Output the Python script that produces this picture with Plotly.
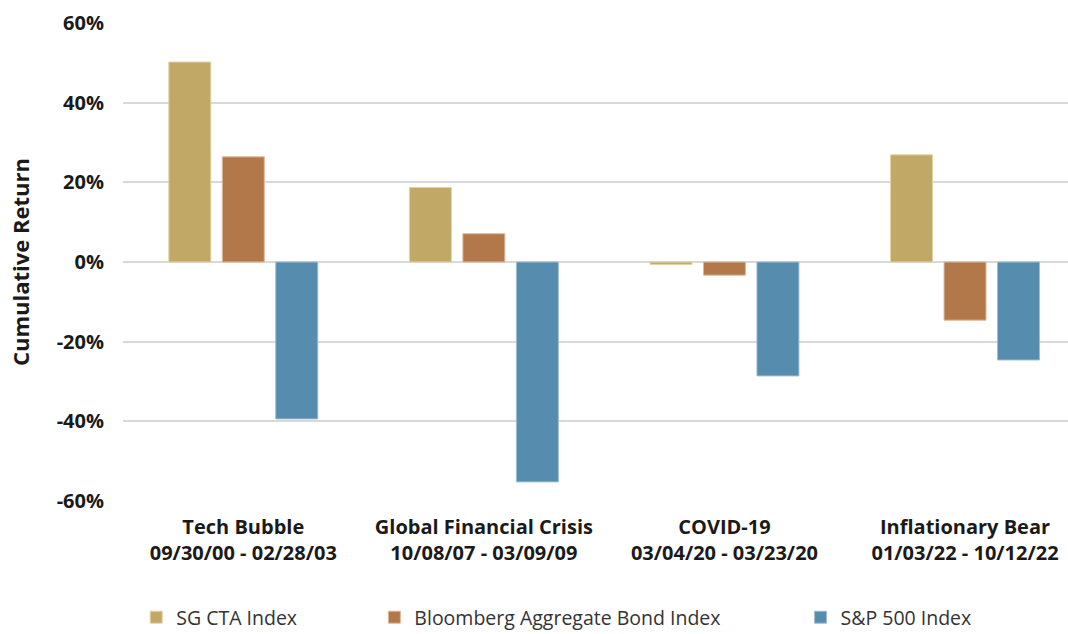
import plotly.graph_objects as go

periods = [
    "Tech Bubble<br>09/30/00 - 02/28/03",
    "Global Financial Crisis<br>10/08/07 - 03/09/09",
    "COVID-19<br>03/04/20 - 03/23/20",
    "Inflationary Bear<br>01/03/22 - 10/12/22",
]
sg_cta = [0.502, 0.187, -0.006, 0.269]
bbg_agg = [0.264, 0.071, -0.033, -0.146]
spx = [-0.394, -0.552, -0.286, -0.246]

y_ticks = [-0.6, -0.4, -0.2, 0, 0.2, 0.4, 0.6]
y_tick_text = ["-60%", "-40%", "-20%", "0%", "20%", "40%", "60%"]

series = [
    ("SG CTA Index", sg_cta, "#C1A866", "#E3D3A6", "legend"),
    ("Bloomberg Aggregate Bond Index", bbg_agg, "#B2784A", "#DDB99C", "legend2"),
    ("S&P 500 Index", spx, "#568CAD", "#9DBDD2", "legend3"),
]

fig = go.Figure()
for name, vals, color, edge, leg in series:
    fig.add_trace(
        go.Bar(
            x=periods,
            y=vals,
            name=name,
            marker=dict(color=color, line=dict(color=edge, width=1)),
            legend=leg,
            showlegend=True,
        )
    )

# legends sit in the bottom strip, referenced to the container so they don't push the margin
legend_style = dict(
    orientation="h",
    yref="container",
    yanchor="middle",
    y=0.026,
    xanchor="left",
    font=dict(family="Open Sans", size=19.5, color="#333333"),
    itemwidth=30,
    bgcolor="rgba(0,0,0,0)",
)

bold = dict(family="Open Sans", size=20, color="#1a1a1a", weight="bold")

fig.update_layout(
    width=1068,
    height=634,
    margin=dict(l=123, r=0, t=23, b=133),
    plot_bgcolor="white",
    paper_bgcolor="white",
    showlegend=True,
    barmode="group",
    bargap=0.333,
    bargroupgap=0.215,
    font=dict(family="Open Sans", color="#1a1a1a"),
    legend=dict(legend_style, x=0.014),
    legend2=dict(legend_style, x=0.266),
    legend3=dict(legend_style, x=0.717),
    xaxis=dict(
        range=[-0.5, 3.428],
        showgrid=False,
        showline=False,
        tickfont=bold,
        ticklabelstandoff=12,
    ),
    yaxis=dict(
        range=[-0.6, 0.6],
        tickvals=y_ticks,
        ticktext=y_tick_text,
        showgrid=True,
        gridcolor="#D9D9D9",
        gridwidth=1.5,
        zeroline=False,
        showline=False,
        tickfont=bold,
        ticklabelstandoff=18,
        title=dict(
            text="Cumulative Return",
            font=dict(family="Open Sans", size=22, color="#1a1a1a", weight="bold"),
            standoff=20,
        ),
    ),
)

# pin the chart to the top-left corner so the page is exactly the window size
pin = (
    "document.body.style.margin='0';"
    "var gd=document.querySelector('.plotly-graph-div');"
    "gd.style.position='fixed';gd.style.left='0';gd.style.top='0';"
)
fig.write_html("out.html", config={"displayModeBar": False}, post_script=pin)
